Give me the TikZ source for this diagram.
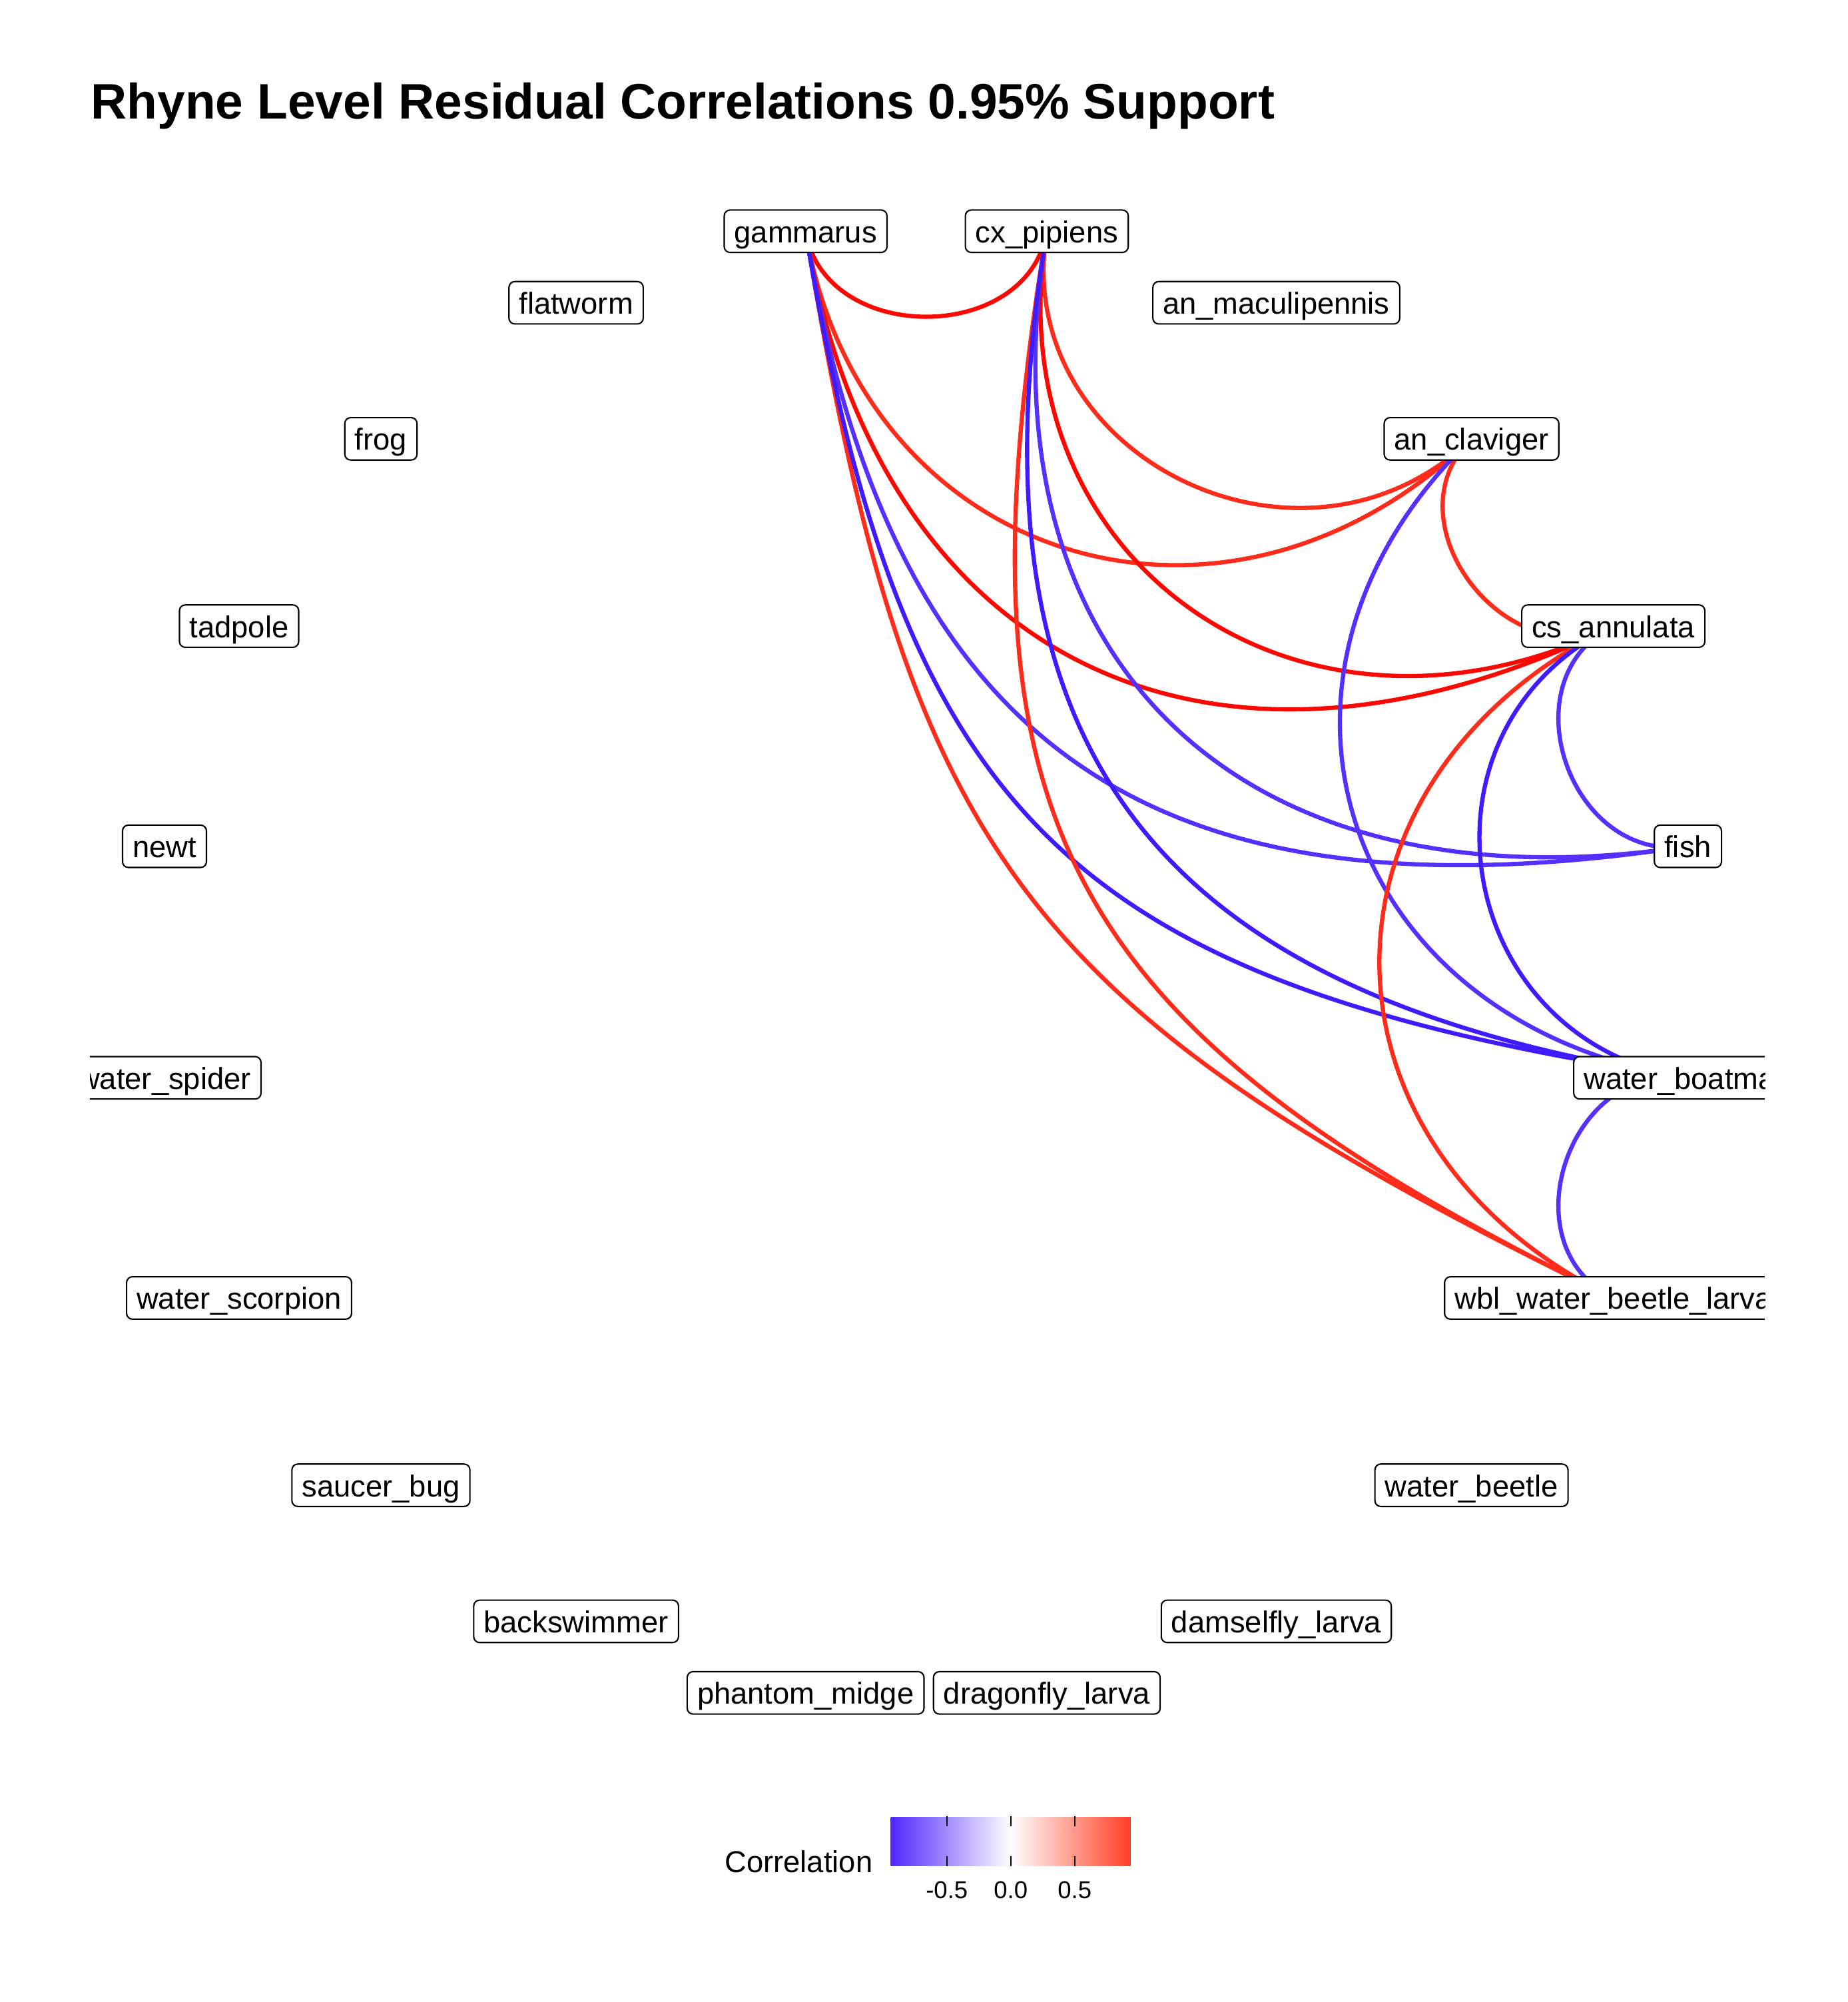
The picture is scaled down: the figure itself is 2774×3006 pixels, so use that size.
\documentclass[tikz,border=0pt]{standalone}
\usepackage{fontspec}
\setmainfont{Liberation Sans}
\usetikzlibrary{calc,backgrounds}
\definecolor{corrredhi}{RGB}{255,6,0}
\definecolor{corrred}{RGB}{255,44,28}
\definecolor{corrbluehi}{RGB}{62,28,255}
\definecolor{corrblue}{RGB}{86,48,255}
\definecolor{barlow}{RGB}{80,40,255}
\definecolor{barhigh}{RGB}{255,62,36}

\begin{document}
\begin{tikzpicture}[x=0.01cm,y=-0.01cm,
    taxon/.style={draw=black,line width=0.6pt,fill=white,rounded corners=2.5pt,
      font=\fontsize{12.9}{15}\selectfont,inner xsep=4.3pt,inner ysep=1.4pt,
      text height=12.5pt,text depth=2.8pt},
    posedge/.style={line width=1.8pt,corrred},
    posstrong/.style={line width=1.8pt,corrredhi},
    negedge/.style={line width=1.8pt,corrblue},
    negstrong/.style={line width=1.8pt,corrbluehi},
    tickmark/.style={line width=0.6pt,black}]
  \useasboundingbox (0,0) rectangle (2774,3006);
  \node[anchor=base west,inner sep=0pt,font=\fontsize{21.3}{25}\selectfont\bfseries] (title) at (136,179)
    {Rhyne Level Residual Correlations 0.95\% Support};
  \coordinate (hub) at (1390.8,1444.5);

  % taxa on the circle (panel clips the outer ones)
  \begin{scope}
    \clip (135,230) rectangle (2650,2680);
    \node[taxon] (gam) at (1209.7,347.2) {gammarus};
    \node[taxon] (cxp) at (1571.9,347.2) {cx\_pipiens};
    \node[taxon] (anmac) at (1916.5,454.6) {an\_maculipennis};
    \node[taxon] (ancla) at (2209.6,658.9) {an\_claviger};
    \node[taxon] (csann) at (2422.6,940.1) {cs\_annulata};
    \node[taxon] (fish) at (2534.6,1270.7) {fish};
    \node[taxon] (wboat) at (2534.6,1618.3) {water\_boatman};
    \node[taxon] (wbl) at (2422.6,1948.9) {wbl\_water\_beetle\_larva};
    \node[taxon] (wbeet) at (2209.6,2230.1) {water\_beetle};
    \node[taxon] (damsel) at (1916.5,2434.4) {damselfly\_larva};
    \node[taxon] (dragon) at (1571.9,2541.8) {dragonfly\_larva};
    \node[taxon] (phantom) at (1209.7,2541.8) {phantom\_midge};
    \node[taxon] (backsw) at (865.1,2434.4) {backswimmer};
    \node[taxon] (saucer) at (572.0,2230.1) {saucer\_bug};
    \node[taxon] (wscorp) at (359.0,1948.9) {water\_scorpion};
    \node[taxon] (wspider) at (247.0,1618.3) {water\_spider};
    \node[taxon] (newt) at (247.0,1270.7) {newt};
    \node[taxon] (tadpole) at (359.0,940.1) {tadpole};
    \node[taxon] (frog) at (572.0,658.9) {frog};
    \node[taxon] (flatworm) at (865.1,454.6) {flatworm};
  \end{scope}

  % arcs, pulled towards the hub
  \begin{scope}[on background layer]
    \draw[posstrong] (gam.center) .. controls ($(gam.center)!.156!(hub)$) and ($(cxp.center)!.156!(hub)$) .. (cxp.center);
    \draw[posedge] (gam.center) .. controls ($(gam.center)!.454!(hub)$) and ($(ancla.center)!.454!(hub)$) .. (ancla.center);
    \draw[posstrong] (gam.center) .. controls ($(gam.center)!.588!(hub)$) and ($(csann.center)!.588!(hub)$) .. (csann.center);
    \draw[posedge] (gam.center) .. controls ($(gam.center)!.86!(hub)$) and ($(wbl.center)!.86!(hub)$) .. (wbl.center);
    \draw[negedge] (gam.center) .. controls ($(gam.center)!.707!(hub)$) and ($(fish.center)!.707!(hub)$) .. (fish.center);
    \draw[negstrong] (gam.center) .. controls ($(gam.center)!.809!(hub)$) and ($(wboat.center)!.809!(hub)$) .. (wboat.center);
    \draw[posedge] (cxp.center) .. controls ($(cxp.center)!.309!(hub)$) and ($(ancla.center)!.309!(hub)$) .. (ancla.center);
    \draw[posstrong] (cxp.center) .. controls ($(cxp.center)!.454!(hub)$) and ($(csann.center)!.454!(hub)$) .. (csann.center);
    \draw[posedge] (cxp.center) .. controls ($(cxp.center)!.809!(hub)$) and ($(wbl.center)!.809!(hub)$) .. (wbl.center);
    \draw[negedge] (cxp.center) .. controls ($(cxp.center)!.588!(hub)$) and ($(fish.center)!.588!(hub)$) .. (fish.center);
    \draw[negstrong] (cxp.center) .. controls ($(cxp.center)!.707!(hub)$) and ($(wboat.center)!.707!(hub)$) .. (wboat.center);
    \draw[posedge] (ancla.center) .. controls ($(ancla.center)!.156!(hub)$) and ($(csann.center)!.156!(hub)$) .. (csann.center);
    \draw[negedge] (ancla.center) .. controls ($(ancla.center)!.454!(hub)$) and ($(wboat.center)!.454!(hub)$) .. (wboat.center);
    \draw[posedge] (csann.center) .. controls ($(csann.center)!.454!(hub)$) and ($(wbl.center)!.454!(hub)$) .. (wbl.center);
    \draw[negedge] (csann.center) .. controls ($(csann.center)!.156!(hub)$) and ($(fish.center)!.156!(hub)$) .. (fish.center);
    \draw[negstrong] (csann.center) .. controls ($(csann.center)!.309!(hub)$) and ($(wboat.center)!.309!(hub)$) .. (wboat.center);
    \draw[negedge] (wboat.center) .. controls ($(wboat.center)!.156!(hub)$) and ($(wbl.center)!.156!(hub)$) .. (wbl.center);
  \end{scope}

  % colour bar
  \node[anchor=east,inner sep=0pt,font=\fontsize{12.9}{15}\selectfont] (legtitle) at (1311,2795) {Correlation};
  \node[anchor=west,inner sep=0pt,minimum width=3.6cm,minimum height=0.73cm,
    left color=barlow,right color=barhigh,middle color=white] (bar) at (1337,2764.5) {};
  \foreach \v/\t [count=\i] in {-1/-0.5,0/0.0,1/0.5}{
    \draw[tickmark] ($(bar.north)+(\v*96,0)$) -- +(0,15);
    \draw[tickmark] ($(bar.south)+(\v*96,0)$) -- +(0,-15);
    \node[inner sep=0pt,font=\fontsize{10.4}{12}\selectfont] (ticklab\i) at ($(bar.south)+(\v*96,36)$) {\t};
  }
\end{tikzpicture}
\end{document}
